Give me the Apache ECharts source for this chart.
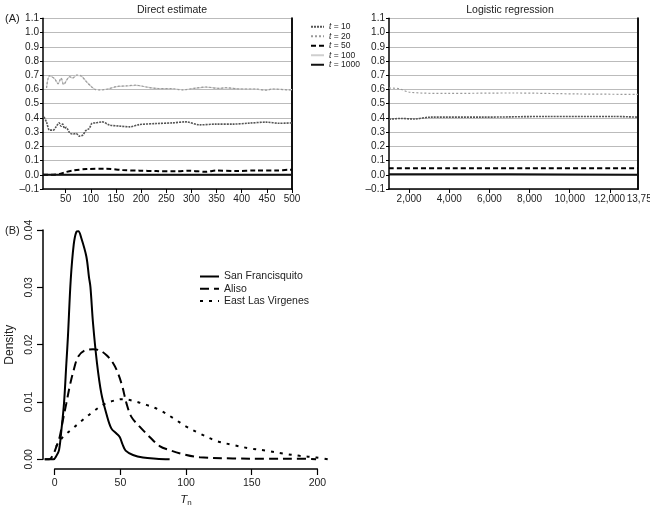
<!DOCTYPE html>
<html>
<head>
<meta charset="utf-8">
<script src="https://cdn.jsdelivr.net/npm/echarts@6/dist/echarts.min.js"></script>
<style>html,body{margin:0;padding:0;background:#fff}#c{width:650px;height:506px}</style>
</head>
<body>
<div id="c"></div>
<script>
// ---------- Panel A: Direct estimate ----------
const seriesNamesA = ['t = 10', 't = 20', 't = 50', 't = 100', 't = 1000'];
const dirX10 = [7, 12, 18, 25, 31, 37, 41, 44, 48, 51, 58, 64, 71, 77, 84, 90, 97, 102, 110, 123, 137, 157, 177, 197, 230, 263, 289, 316, 349, 382, 415, 448, 475, 500];
const dirY10 = [0.407, 0.37, 0.314, 0.314, 0.337, 0.365, 0.342, 0.356, 0.326, 0.333, 0.295, 0.286, 0.29, 0.272, 0.279, 0.31, 0.326, 0.36, 0.365, 0.372, 0.35, 0.342, 0.337, 0.353, 0.36, 0.365, 0.372, 0.351, 0.356, 0.356, 0.363, 0.37, 0.362, 0.365];
const dirX20 = [12, 18, 28, 35, 41, 46, 58, 64, 72, 81, 91, 101, 108, 118, 131, 151, 171, 190, 210, 230, 263, 283, 309, 329, 355, 368, 395, 428, 448, 461, 494, 500];
const dirY20 = [0.61, 0.697, 0.675, 0.64, 0.68, 0.635, 0.69, 0.68, 0.70, 0.695, 0.655, 0.62, 0.60, 0.597, 0.60, 0.62, 0.625, 0.63, 0.617, 0.607, 0.605, 0.597, 0.61, 0.617, 0.607, 0.612, 0.603, 0.603, 0.595, 0.603, 0.597, 0.598];
const dirX50 = [5, 25, 38, 48, 64, 91, 131, 163, 197, 230, 270, 296, 329, 349, 389, 428, 468, 495, 500];
const dirY50 = [0.0, 0.0, 0.005, 0.017, 0.03, 0.04, 0.043, 0.033, 0.029, 0.026, 0.024, 0.029, 0.021, 0.03, 0.026, 0.03, 0.03, 0.035, 0.035];
const dirX100 = [12, 18, 28, 35, 41, 46, 58, 64, 72, 81, 91, 101, 108, 118, 131, 151, 171, 190, 210, 230, 263, 283, 309, 329, 355, 368, 395, 428, 448, 461, 494, 500];
const dirY100 = [0.612, 0.695, 0.676, 0.642, 0.678, 0.637, 0.688, 0.681, 0.699, 0.694, 0.656, 0.621, 0.601, 0.598, 0.601, 0.619, 0.624, 0.629, 0.618, 0.608, 0.604, 0.598, 0.609, 0.616, 0.608, 0.611, 0.604, 0.602, 0.596, 0.602, 0.598, 0.599];
const dirX1000 = [5, 100, 200, 300, 400, 500];
const dirY1000 = [0, 0, 0, 0, 0, 0];
const dirTicks = [50, 100, 150, 200, 250, 300, 350, 400, 450, 500];

// ---------- Panel A: Logistic regression ----------
const logX10 = [1000, 1580, 2240, 3080, 5560, 8870, 12160, 13400];
const logY10 = [0.39, 0.396, 0.392, 0.405, 0.405, 0.41, 0.41, 0.405];
const logX20 = [1000, 1500, 2040, 3860, 7170, 10480, 13400];
const logY20 = [0.61, 0.605, 0.58, 0.572, 0.575, 0.568, 0.565];
const logX50 = [1000, 4000, 8000, 13400];
const logY50 = [0.045, 0.045, 0.045, 0.045];
const logX1000 = [1000, 7000, 13400];
const logY1000 = [0.003, 0.003, 0.001];
const logTicks = [2000, 4000, 6000, 8000, 10000, 12000];
const logTickLabels = ['2,000', '4,000', '6,000', '8,000', '10,000', '12,000'];
const logEndTick = 13400;
const logEndLabel = '13,750';

// ---------- Panel B: densities ----------
const seriesNamesB = ['San Francisquito', 'Aliso', 'East Las Virgenes'];
const sfX = [-7.6, -0.9, 1.3, 3.3, 5.1, 7.1, 8.9, 10.1, 12.2, 14.5, 16.5, 18.0, 20.3, 24.1, 26.1, 27.2, 29.2, 32.2, 35.5, 39.3, 43.1, 47, 49.5, 51.5, 54, 59.6, 67.2, 77.4, 87.5];
const sfY = [0, 0, 0.0006, 0.0016, 0.0051, 0.0098, 0.0168, 0.0215, 0.0313, 0.0375, 0.0397, 0.0398, 0.0386, 0.0354, 0.0318, 0.0301, 0.0237, 0.0168, 0.0115, 0.008, 0.0054, 0.0045, 0.0039, 0.0027, 0.0015, 0.00075, 0.0003, 0.0001, 0];
const alX = [-7.6, -4, -1.3, 1.3, 3.8, 6.3, 8.9, 11.4, 14.5, 17.8, 22.8, 29.2, 34.3, 39.3, 44.4, 48.2, 51.5, 54.6, 58.4, 64.7, 72.3, 79.9, 87.5, 97.7, 110.4, 135.7, 160.9, 186.5, 199];
const alY = [0, 0, 0.00075, 0.0022, 0.0039, 0.0069, 0.0098, 0.0127, 0.0156, 0.0179, 0.019, 0.0192, 0.019, 0.0182, 0.0168, 0.015, 0.0127, 0.0098, 0.0074, 0.0057, 0.0039, 0.0023, 0.0016, 0.0009, 0.00035, 0.00015, 0.0001, 0.0001, 0];
const elvX = [1.0, 6.3, 13.9, 21.5, 29.2, 36.8, 44.4, 52, 59.6, 69.8, 79.9, 90.1, 100.2, 110.4, 123.1, 135.7, 148.5, 161.2, 173.8, 186.5, 199.2, 208];
const elvY = [0.0022, 0.0039, 0.0054, 0.0069, 0.0083, 0.0095, 0.0102, 0.0105, 0.0102, 0.0095, 0.0086, 0.0072, 0.0057, 0.0045, 0.0032, 0.0025, 0.0019, 0.0015, 0.001, 0.0006, 0.0003, 0];
const densXTicks = [0, 50, 100, 150, 200];
const densYTicks = [0, 0.01, 0.02, 0.03, 0.04];

const zip = (xs, ys) => xs.map((x, i) => [x, ys[i]]);
const FONT = 'Liberation Sans';
const txt = {fontFamily: FONT, color: '#222'};

const styleA = {
  't = 10': {color: '#555', width: 1.6, type: [2, 1]},
  't = 20': {color: '#9a9a9a', width: 1.2, type: [2, 2]},
  't = 50': {color: '#000', width: 2, type: [5, 3]},
  't = 100': {color: '#cfcfcf', width: 1.2, type: 'solid'},
  't = 1000': {color: '#111', width: 2, type: 'solid'}
};
function lineA(name, xi, yi, data, z) {
  const s = styleA[name];
  return {type: 'line', name, xAxisIndex: xi, yAxisIndex: yi, data, symbol: 'none', smooth: 0.3,
    z: z, lineStyle: {color: s.color, width: s.width, type: s.type}, itemStyle: {color: s.color}, emphasis: {disabled: true}};
}

const yLabelA = v => (Math.round(v * 10) / 10).toFixed(1).replace('-', '\u2013');
function yAxisA(gi) {
  return [{
    gridIndex: gi, type: 'value', min: -0.1, max: 1.1, interval: 0.1, position: 'left',
    axisLine: {show: true, lineStyle: {color: '#000', width: 1.5}},
    axisTick: {show: true, length: 3, lineStyle: {color: '#000'}},
    axisLabel: {margin: 4, fontSize: 10, ...txt, formatter: yLabelA},
    splitLine: {show: true, lineStyle: {color: '#bbb', width: 1}}
  }, {
    gridIndex: gi, type: 'value', min: -0.1, max: 1.1, position: 'right',
    axisLine: {show: true, lineStyle: {color: '#111', width: 2}},
    axisTick: {show: false}, axisLabel: {show: false}, splitLine: {show: false}
  }];
}

const option = {
  animation: false,
  backgroundColor: '#fff',
  title: [
    {text: 'Direct estimate', left: 167, top: 0, textAlign: 'center', textStyle: {fontSize: 10.5, fontWeight: 'normal', ...txt}},
    {text: 'Logistic regression', left: 505, top: 0, textAlign: 'center', textStyle: {fontSize: 10.5, fontWeight: 'normal', ...txt}},
    {text: '(A)', left: 0, top: 8, textStyle: {fontSize: 11, fontWeight: 'normal', ...txt}},
    {text: '(B)', left: 0, top: 220, textStyle: {fontSize: 11, fontWeight: 'normal', ...txt}}
  ],
  legend: [{
    data: seriesNamesA, orient: 'vertical', left: 305, top: 17, itemWidth: 13, itemHeight: 9.5, itemGap: 0,
    itemStyle: {opacity: 0},
    formatter: n => '{i|t}' + n.slice(1),
    textStyle: {fontSize: 8.5, lineHeight: 9.5, ...txt, rich: {i: {fontStyle: 'italic', fontSize: 8.5, fontFamily: FONT}}},
    selectedMode: false
  }, {
    data: seriesNamesB, orient: 'vertical', left: 194, top: 265.5, itemWidth: 19, itemHeight: 12, itemGap: 0.2,
    itemStyle: {opacity: 0},
    textStyle: {fontSize: 10.5, lineHeight: 12, ...txt}, selectedMode: false
  }],
  grid: [
    {left: 43, top: 18.3, width: 249, height: 170.7, outerBoundsMode: 'none', containLabel: false},
    {left: 389, top: 18.3, width: 249, height: 170.7, outerBoundsMode: 'none', containLabel: false},
    {left: 43, top: 221, width: 297, height: 248, outerBoundsMode: 'none', containLabel: false},
    {left: 54.7, top: 221, width: 262.7, height: 248, outerBoundsMode: 'none', containLabel: false},
    {left: 43, top: 230, width: 297, height: 229.3, outerBoundsMode: 'none', containLabel: false}
  ],
  xAxis: [
    {gridIndex: 0, type: 'value', min: 5, max: 500,
      axisLine: {show: true, onZero: false, lineStyle: {color: '#000', width: 1.5}},
      axisTick: {show: true, length: 4, customValues: dirTicks, lineStyle: {color: '#000'}},
      axisLabel: {margin: 5, fontSize: 10, ...txt, customValues: dirTicks},
      splitLine: {show: false}},
    {gridIndex: 1, type: 'value', min: 1000, max: 13400,
      axisLine: {show: true, onZero: false, lineStyle: {color: '#000', width: 1.5}},
      axisTick: {show: true, length: 4, customValues: logTicks, lineStyle: {color: '#000'}},
      axisLabel: {margin: 5, fontSize: 10, ...txt, customValues: logTicks, showMaxLabel: true, showMinLabel: true,
        formatter: v => logTickLabels[logTicks.indexOf(v)] || ''},
      splitLine: {show: false}},
    {gridIndex: 2, type: 'value', min: -8.9, max: 217.2, show: false},
    {gridIndex: 3, type: 'value', min: 0, max: 200, interval: 50,
      axisLine: {show: true, onZero: false, lineStyle: {color: '#000', width: 1.5}},
      axisTick: {show: true, length: 6, lineStyle: {color: '#000', width: 1.2}},
      axisLabel: {margin: 9, fontSize: 10.5, ...txt, customValues: densXTicks},
      splitLine: {show: false},
      name: '{t|T}{n|n}', nameLocation: 'middle', nameGap: 24,
      nameTextStyle: {rich: {t: {fontStyle: 'italic', fontSize: 11.5, fontFamily: FONT, color: '#222'},
        n: {fontSize: 8, fontFamily: FONT, color: '#222', padding: [6, 0, 0, 0]}}}},
    {gridIndex: 4, type: 'value', min: 0, max: 1, show: false},
    {gridIndex: 1, type: 'value', min: 1000, max: 13400, position: 'bottom', offset: 0,
      axisLine: {show: false}, axisTick: {show: false}, splitLine: {show: false},
      axisLabel: {margin: 5, fontSize: 10, ...txt, customValues: [logEndTick], showMaxLabel: true,
        formatter: () => '{r|' + logEndLabel + '}',
        rich: {r: {fontSize: 10, fontFamily: FONT, color: '#222', padding: [0, 0, 0, 8]}}}}
  ],
  yAxis: [
    ...yAxisA(0), ...yAxisA(1),
    {gridIndex: 2, type: 'value', min: -0.0017, max: 0.0416, show: false},
    {gridIndex: 3, type: 'value', min: 0, max: 1, show: false},
    {gridIndex: 4, type: 'value', min: 0, max: 0.04, interval: 0.01,
      axisLine: {show: true, onZero: false, lineStyle: {color: '#000', width: 1.5}},
      axisTick: {show: true, length: 6, lineStyle: {color: '#000', width: 1.2}},
      axisLabel: {margin: 8, fontSize: 10.5, rotate: 90, ...txt, customValues: densYTicks,
        formatter: v => v === 0 ? '0.00' : (v).toFixed(2)},
      splitLine: {show: false},
      name: 'Density', nameLocation: 'middle', nameGap: 27, nameRotate: 90,
      nameTextStyle: {fontSize: 12, ...txt}}
  ],
  series: [
    lineA('t = 100', 0, 0, zip(dirX100, dirY100), 2),
    lineA('t = 20', 0, 0, zip(dirX20, dirY20), 3),
    lineA('t = 10', 0, 0, zip(dirX10, dirY10), 3),
    lineA('t = 50', 0, 0, zip(dirX50, dirY50), 4),
    lineA('t = 1000', 0, 0, zip(dirX1000, dirY1000), 4),
    lineA('t = 20', 1, 2, zip(logX20, logY20), 3),
    lineA('t = 10', 1, 2, zip(logX10, logY10), 3),
    lineA('t = 50', 1, 2, zip(logX50, logY50), 4),
    lineA('t = 1000', 1, 2, zip(logX1000, logY1000), 4),
    {type: 'line', name: 'San Francisquito', xAxisIndex: 2, yAxisIndex: 4, data: zip(sfX, sfY), symbol: 'none', smooth: 0.35,
      lineStyle: {color: '#000', width: 2}, itemStyle: {color: '#000'}},
    {type: 'line', name: 'Aliso', xAxisIndex: 2, yAxisIndex: 4, data: zip(alX, alY), symbol: 'none', smooth: 0.35,
      lineStyle: {color: '#000', width: 2, type: [9, 5]}, itemStyle: {color: '#000'}},
    {type: 'line', name: 'East Las Virgenes', xAxisIndex: 2, yAxisIndex: 4, data: zip(elvX, elvY), symbol: 'none', smooth: 0.35,
      lineStyle: {color: '#000', width: 2, type: [3, 6]}, itemStyle: {color: '#000'}}
  ]
};
const chart = echarts.init(document.getElementById('c'), null, {renderer: 'canvas'});
chart.setOption(option);
</script>
</body>
</html>
